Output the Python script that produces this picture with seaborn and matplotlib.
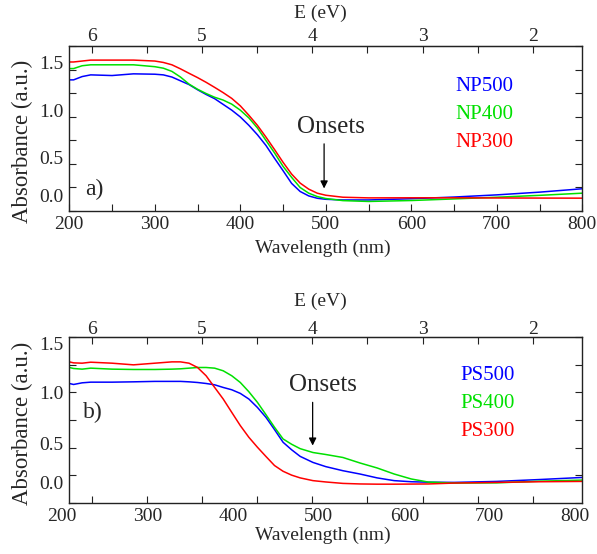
import numpy as np
import pandas as pd
import matplotlib
matplotlib.use("Agg")
import matplotlib.pyplot as plt
import matplotlib.transforms as mtransforms
from matplotlib import font_manager
from matplotlib.ticker import MultipleLocator, FixedLocator
import seaborn as sns

# ---------------- data ----------------
# Panel a) NP samples
wl_a = [200, 205, 215, 225, 250, 275, 300, 310, 320, 330, 340, 350, 360, 370,
        380, 390, 400, 410, 420, 430, 440, 450, 460, 470, 480, 490, 500, 520,
        550, 600, 650, 700, 750, 800]
np500 = [1.39, 1.39, 1.425, 1.443, 1.436, 1.454, 1.45, 1.443, 1.42, 1.38, 1.34,
         1.285, 1.235, 1.19, 1.129, 1.068, 0.996, 0.907, 0.807, 0.693, 0.557,
         0.425, 0.29, 0.204, 0.157, 0.132, 0.121, 0.114, 0.114, 0.127, 0.145,
         0.168, 0.197, 0.233]
np400 = [1.51, 1.51, 1.54, 1.55, 1.55, 1.55, 1.53, 1.514, 1.48, 1.42, 1.345,
         1.29, 1.245, 1.205, 1.175, 1.132, 1.068, 0.986, 0.879, 0.746, 0.614,
         0.471, 0.354, 0.246, 0.186, 0.15, 0.129, 0.107, 0.098, 0.108, 0.125,
         0.143, 0.163, 0.186]
np300 = [1.58, 1.58, 1.59, 1.60, 1.60, 1.60, 1.59, 1.575, 1.55, 1.507, 1.46,
         1.414, 1.364, 1.31, 1.254, 1.193, 1.114, 1.014, 0.907, 0.782, 0.65,
         0.514, 0.389, 0.293, 0.229, 0.186, 0.164, 0.143, 0.136, 0.137, 0.137,
         0.135, 0.134, 0.133]

# Panel b) PS samples
wl_b = [200, 205, 215, 225, 250, 275, 300, 320, 330, 340, 350, 360, 370, 380,
        390, 400, 410, 420, 430, 440, 450, 460, 470, 485, 500, 520, 540, 560,
        580, 600, 620, 650, 700, 750, 800]
ps500 = [1.081, 1.072, 1.087, 1.093, 1.093, 1.096, 1.10, 1.10, 1.10, 1.096,
         1.09, 1.081, 1.069, 1.045, 1.024, 0.991, 0.94, 0.864, 0.774, 0.663,
         0.548, 0.48, 0.42, 0.365, 0.327, 0.29, 0.26, 0.225, 0.20, 0.19, 0.186,
         0.184, 0.193, 0.21, 0.229]
ps400 = [1.226, 1.217, 1.211, 1.22, 1.211, 1.208, 1.208, 1.211, 1.214, 1.22,
         1.226, 1.226, 1.22, 1.196, 1.151, 1.09, 1.006, 0.91, 0.798, 0.684,
         0.578, 0.53, 0.49, 0.455, 0.437, 0.41, 0.36, 0.315, 0.26, 0.215, 0.187,
         0.178, 0.18, 0.195, 0.205]
ps300 = [1.277, 1.268, 1.265, 1.274, 1.265, 1.25, 1.265, 1.277, 1.277, 1.265,
         1.226, 1.151, 1.045, 0.94, 0.819, 0.699, 0.593, 0.503, 0.419, 0.337,
         0.285, 0.25, 0.225, 0.20, 0.188, 0.175, 0.17, 0.168, 0.168, 0.169,
         0.17, 0.178, 0.184, 0.19, 0.193]

labels_a = ["NP500", "NP400", "NP300"]
labels_b = ["PS500", "PS400", "PS300"]
colors = ["#0000ff", "#00e000", "#ff0000"]

wl_ticks = [200, 300, 400, 500, 600, 700, 800]
ev_ticks = [2, 3, 4, 5, 6]
abs_ticks = [0.0, 0.5, 1.0, 1.5]

# ---------------- style ----------------
sns.set_style("ticks")


def pick_serif():
    for name in ["Liberation Serif", "Times New Roman", "Nimbus Roman",
                 "TeX Gyre Termes", "DejaVu Serif"]:
        try:
            path = font_manager.findfont(
                font_manager.FontProperties(family=name),
                fallback_to_default=False)
            return name, path
        except Exception:
            continue
    return "DejaVu Serif", None


SERIF_NAME, SERIF_PATH = pick_serif()
plt.rcParams["font.family"] = [SERIF_NAME, "DejaVu Serif"]
SPINE = "#222222"


def wl_to_ev(wl):
    return 6.0 - (np.asarray(wl, dtype=float) - 226.2) / 128.97


def ev_to_wl(ev):
    return 226.2 + (6.0 - np.asarray(ev, dtype=float)) * 128.97


def long_frame(wl, series, names):
    rows = []
    for vals, name in zip(series, names):
        rows.append(pd.DataFrame({"wavelength": wl, "absorbance": vals,
                                  "sample": name}))
    return pd.concat(rows, ignore_index=True)


fig = plt.figure(figsize=(5.97, 5.54), dpi=100)
ax_a = fig.add_axes([0.1161, 0.6197, 0.8593, 0.2973])
ax_b = fig.add_axes([0.1161, 0.0926, 0.8593, 0.2986])

panels = [
    dict(ax=ax_a, wl=wl_a, series=[np500, np400, np300], names=labels_a,
         ymax=1.75, tag="a)", tag_xy=(218, 0.229),
         onset_x=498, arrow=(0.71, 0.236), onset_txt=(506, 0.889),
         leg_x=652, leg_y=[1.32, 1.026, 0.72],
         ylab_y=0.42, xlab_y=-0.178, ev_y=1.20, top_pad=0.5,
         ylab_shift=[15, 6.5, 6, 7], shift_xlabels=False),
    dict(ax=ax_b, wl=wl_b, series=[ps500, ps400, ps300], names=labels_b,
         ymax=1.5, tag="b)", tag_xy=(215.6, 0.82),
         onset_x=484.6, arrow=(0.91, 0.518), onset_txt=(497, 1.063),
         leg_x=657, leg_y=[1.154, 0.898, 0.642],
         ylab_y=0.48, xlab_y=-0.147, ev_y=1.215, top_pad=-0.8,
         ylab_shift=[20, 4.5, 0, -6], shift_xlabels=True),
]

for p in panels:
    ax = p["ax"]
    df = long_frame(p["wl"], p["series"], p["names"])
    sns.lineplot(data=df, x="wavelength", y="absorbance", hue="sample",
                 palette=dict(zip(p["names"], colors)), sort=False,
                 estimator=None, legend=False, linewidth=1.1, ax=ax)

    ax.set_xlim(200, 800)
    ax.set_ylim(0, p["ymax"])
    for s in ax.spines.values():
        s.set_visible(True)
        s.set_color(SPINE)
        s.set_linewidth(1.0)

    # y axis: labelled every 0.5, ticks every 0.25 on both sides
    ax.yaxis.set_major_locator(FixedLocator(abs_ticks))
    ax.set_yticklabels([f"{v:.1f}" for v in abs_ticks])
    ax.yaxis.set_minor_locator(MultipleLocator(0.25))
    ax.tick_params(axis="y", which="both", direction="in", length=5,
                   width=0.8, color=SPINE, left=True, right=True,
                   labelsize=14, pad=4)

    # bottom wavelength axis
    ax.xaxis.set_major_locator(FixedLocator(wl_ticks))
    ax.set_xticklabels([str(v) for v in wl_ticks])
    if p["shift_xlabels"]:
        ax.xaxis.set_minor_locator(
            FixedLocator(ev_to_wl(np.arange(2.0, 6.01, 0.5))))
        ax.tick_params(axis="x", which="major", length=0)
        ax.tick_params(axis="x", which="minor", direction="in", length=5,
                       width=0.8, color=SPINE)
    else:
        ax.xaxis.set_minor_locator(MultipleLocator(50))
        ax.tick_params(axis="x", which="both", direction="in", length=5,
                       width=0.8, color=SPINE)
    ax.tick_params(axis="x", which="both", top=False, labelsize=14, pad=3.5)

    ax.set_xlabel("Wavelength (nm)", fontsize=14)
    ax.xaxis.set_label_coords(0.494, p["xlab_y"])
    ax.set_ylabel("Absorbance (a.u.)", fontsize=16.5)
    ax.yaxis.set_label_coords(-0.0708, p["ylab_y"])

    # top energy axis
    sec = ax.secondary_xaxis("top", functions=(wl_to_ev, ev_to_wl))
    sec.xaxis.set_major_locator(FixedLocator(ev_ticks))
    sec.xaxis.set_minor_locator(MultipleLocator(0.5))
    sec.tick_params(axis="x", which="both", direction="in", length=5,
                    width=0.8, color=SPINE, labelsize=14, pad=p["top_pad"])
    sec.spines["top"].set_color(SPINE)
    ax.text(0.489, p["ev_y"], "E (eV)", transform=ax.transAxes,
            ha="center", va="center", fontsize=14)

    # onset marker
    ax.annotate("", xy=(p["onset_x"], p["arrow"][1]),
                xytext=(p["onset_x"], p["arrow"][0]),
                arrowprops=dict(arrowstyle="-|>", color="black", lw=0.9,
                                mutation_scale=11, shrinkA=0, shrinkB=0))
    ax.text(p["onset_txt"][0], p["onset_txt"][1], "Onsets", ha="center",
            va="center", fontsize=18)

    # sample labels
    for name, col, yv in zip(p["names"], colors, p["leg_y"]):
        ax.text(p["leg_x"], yv, name, color=col, ha="left", va="center",
                fontsize=15)

    ax.text(p["tag_xy"][0], p["tag_xy"][1], p["tag"], ha="left",
            va="center", fontsize=17)

fig.canvas.draw()

# nudge tick labels to their printed positions
for p in panels:
    ax = p["ax"]
    for lab, dy in zip(ax.get_yticklabels(), p["ylab_shift"]):
        lab.set_transform(lab.get_transform() + mtransforms.ScaledTranslation(
            0, dy / 100.0, fig.dpi_scale_trans))
    if p["shift_xlabels"]:
        for lab in ax.get_xticklabels():
            lab.set_transform(lab.get_transform() +
                              mtransforms.ScaledTranslation(
                                  -7 / 100.0, 0, fig.dpi_scale_trans))

fig.savefig("out.png", dpi=100)
